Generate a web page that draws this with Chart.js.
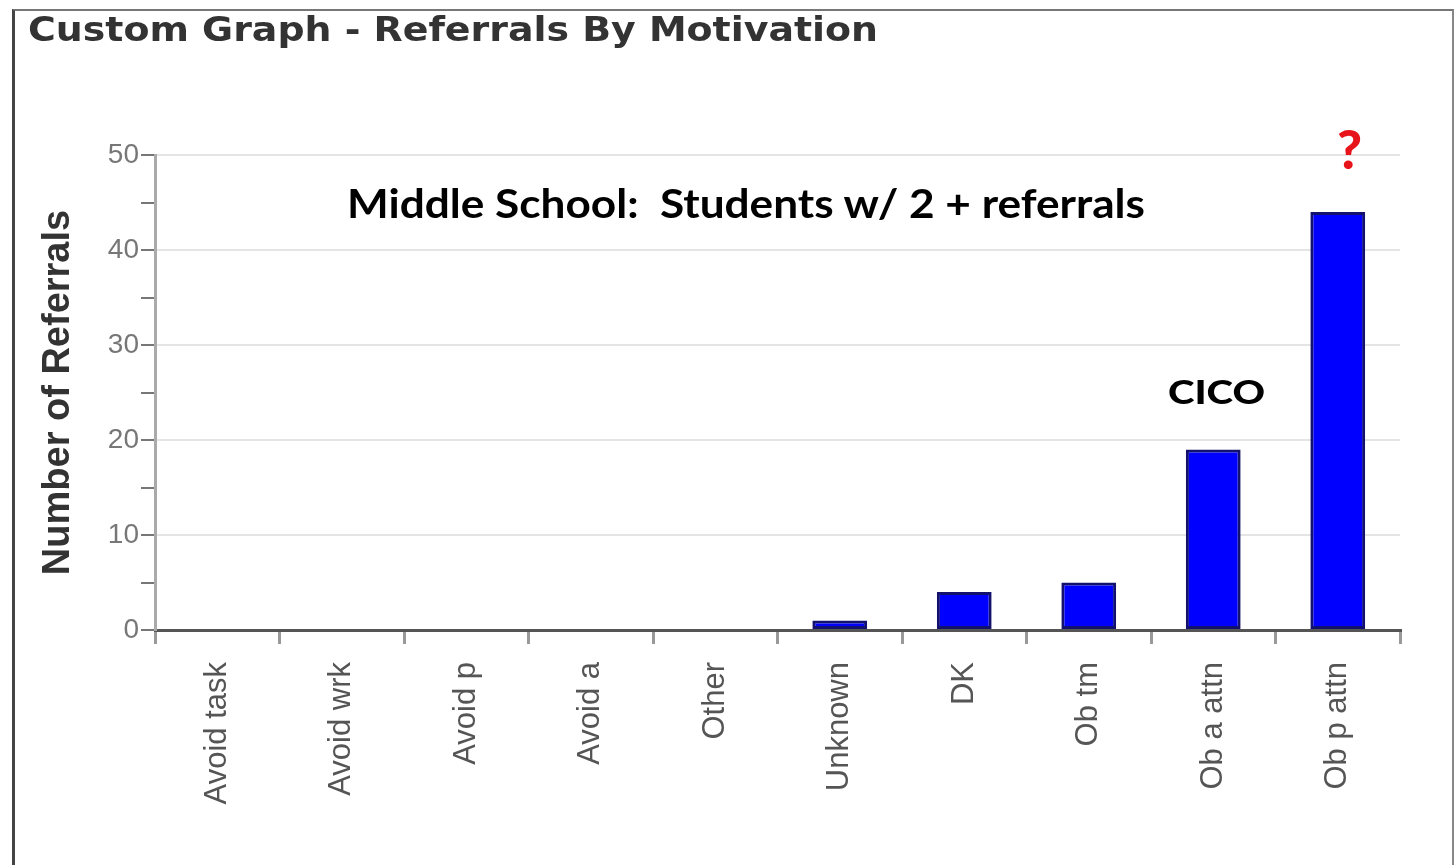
<!DOCTYPE html>
<html>
<head>
<meta charset="utf-8">
<script src="https://cdn.jsdelivr.net/npm/chart.js@4.4.1/dist/chart.umd.min.js"></script>
<style>
  html, body { margin: 0; padding: 0; background: #fff; width: 1454px; height: 865px; overflow: hidden; }
  #frame { position: absolute; left: 12px; top: 9px; width: 1437px; height: 900px;
           border-top: 2px solid #777; border-left: 3px solid #444; border-right: 2px solid #888; }
  #wrap { position: absolute; left: 0; top: 0; width: 1454px; height: 865px; }
  .txt { position: absolute; white-space: nowrap; line-height: 1; transform-origin: 0 0; }
  #title { left: 28px; top: 9px; font: bold 34px "DejaVu Sans"; color: #333; }
  #sub { left: 347px; top: 179px; font: bold 40px Lato; color: #000; }
  #cico { left: 1168px; top: 372px; font: 900 32px Lato; color: #000; }
  #q { left: 1337px; top: 116px; font: 900 54px Lato; color: #e8141b; }
</style>
</head>
<body>
<div id="frame"></div>
<div id="wrap"><canvas id="c" width="1454" height="865"></canvas></div>
<div class="txt" id="title" data-w="850">Custom Graph - Referrals By Motivation</div>
<div class="txt" id="sub" data-w="798">Middle School:&nbsp; Students w/ 2 + referrals</div>
<div class="txt" id="cico" data-w="97">CICO</div>
<div class="txt" id="q">?</div>
<script>
const categories = ["Avoid task", "Avoid wrk", "Avoid p", "Avoid a", "Other", "Unknown", "DK", "Ob tm", "Ob a attn", "Ob p attn"];
const referrals = [0, 0, 0, 0, 0, 1, 4, 5, 19, 44];
const yMax = 50;
const yStep = 5;
const yLabelStep = 10;

// fit annotation widths by horizontal scaling
document.querySelectorAll('.txt[data-w]').forEach(el => {
  const target = parseFloat(el.dataset.w);
  const w = el.getBoundingClientRect().width;
  el.style.transform = 'scaleX(' + (target / w) + ')';
});

const ctx = document.getElementById('c').getContext('2d');
new Chart(ctx, {
  type: 'bar',
  data: {
    labels: categories,
    datasets: [{
      data: referrals,
      backgroundColor: '#0000ff',
      borderColor: '#12126e',
      borderWidth: 3,
      borderSkipped: false,
      categoryPercentage: 1,
      barPercentage: 0.44
    }]
  },
  options: {
    responsive: false,
    animation: false,
    devicePixelRatio: 1,
    layout: { padding: { left: 30, right: 54, top: 155, bottom: 0 } },
    plugins: { legend: { display: false }, tooltip: { enabled: false } },
    scales: {
      x: {
        afterFit: s => { s.height = 235; },
        grid: { drawOnChartArea: false, drawTicks: true, tickLength: 14, tickColor: '#999', lineWidth: 3, offset: true },
        border: { color: '#555', width: 3 },
        ticks: { autoSkip: false, maxRotation: 90, minRotation: 90, padding: 18,
                 font: { family: 'Liberation Sans', size: 31 }, color: '#555' }
      },
      y: {
        min: 0, max: yMax,
        afterFit: s => { s.width = 125; },
        border: { color: '#aaa', width: 3 },
        grid: {
          color: c => (c.tick && c.tick.value % yLabelStep === 0 && c.tick.value > 0) ? '#e4e4e4' : 'rgba(0,0,0,0)',
          tickColor: '#777', lineWidth: 2, tickLength: 14
        },
        ticks: { stepSize: yStep, padding: 2, color: '#777',
                 font: { family: 'Liberation Sans', size: 28 },
                 callback: v => (v % yLabelStep === 0 ? String(v) : '') },
        title: { display: true, text: 'Number of Referrals', color: '#333',
                 font: { family: 'Liberation Sans', size: 38, weight: 'bold' },
                 padding: { top: 6, bottom: 0 } }
      }
    }
  }
});
</script>
</body>
</html>
